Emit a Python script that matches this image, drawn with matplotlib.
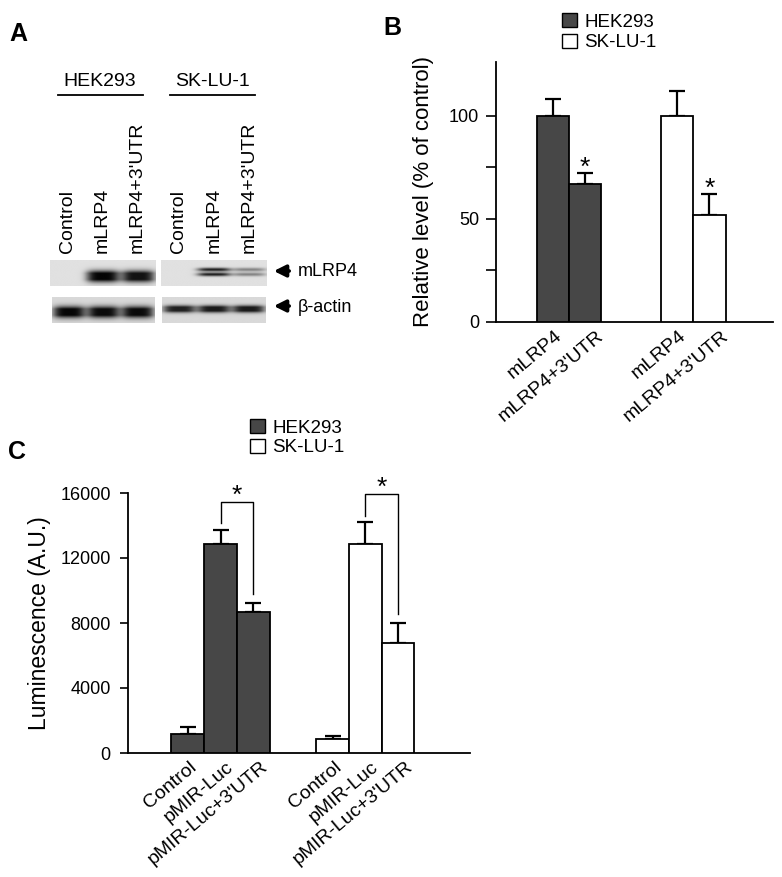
import numpy as np
import matplotlib
matplotlib.use("Agg")
import matplotlib.pyplot as plt
from matplotlib.patches import Patch
from matplotlib.transforms import ScaledTranslation

plt.rcParams['font.family'] = ['Liberation Sans', 'DejaVu Sans']

# ---- data ----
# panel A: band strengths per lane (Control, mLRP4, mLRP4+3'UTR)
lane_labels = ['Control', 'mLRP4', "mLRP4+3'UTR"]
mlrp4_hek = [0.0, 0.98, 0.92]
mlrp4_sk = [0.0, 0.88, 0.42]
actin_hek = [0.97, 0.95, 0.95]
actin_sk = [0.85, 0.88, 0.88]

# panel B: relative level (% of control)
b_labels = ['mLRP4', "mLRP4+3'UTR"]
b_hek = [100, 67]
b_hek_err = [8, 5]
b_sk = [100, 52]
b_sk_err = [12, 10]

# panel C: luminescence (A.U.)
c_labels = ['Control', 'pMIR-Luc', "pMIR-Luc+3'UTR"]
c_hek = [1150, 12850, 8650]
c_hek_err = [450, 880, 580]
c_sk = [880, 12850, 6770]
c_sk_err = [190, 1340, 1250]

DARK = '#474747'
W, H = 782, 877

fig = plt.figure(figsize=(W / 100, H / 100), dpi=100)


def px_rect(x0, y0, x1, y1):
    return [x0 / W, 1 - y1 / H, (x1 - x0) / W, (y1 - y0) / H]


# overlay in pixel coords for panel A annotations
axA = fig.add_axes([0, 0, 1, 1])
axA.set_xlim(0, W)
axA.set_ylim(H, 0)
axA.axis('off')


def draw_blot(rect, strengths, yc, half, doublet=False, bg=0.88):
    ax = fig.add_axes(px_rect(*rect))
    xs = np.linspace(0, 3, 300)
    ys = np.linspace(0, 1, 80)
    X, Y = np.meshgrid(xs, ys)
    img = np.full_like(X, bg)
    for i, s in enumerate(strengths):
        prof_x = np.exp(-((X - (i + 0.5)) / 0.47) ** 4)
        if doublet:
            prof_y = (np.exp(-((Y - yc - half * 0.55) / (half * 0.42)) ** 2)
                      + np.exp(-((Y - yc + half * 0.55) / (half * 0.42)) ** 2))
        else:
            prof_y = 1.4 * np.exp(-((Y - yc) / half) ** 2)
        img = img - s * bg * prof_x * np.clip(prof_y, 0, 1)
    ax.imshow(img, cmap='gray', vmin=0, vmax=1, extent=(0, 3, 0, 1),
              origin='lower', aspect='auto', interpolation='bilinear')
    ax.set_xlim(0, 3)
    ax.set_ylim(0, 1)
    ax.axis('off')
    return ax


ax_tl = draw_blot((50, 260, 155, 286), mlrp4_hek, 0.37, 0.21)
ax_tr = draw_blot((161, 260, 267, 286), mlrp4_sk, 0.54, 0.17, doublet=True)
draw_blot((52, 297, 155, 323), actin_hek, 0.42, 0.21, bg=0.85)
draw_blot((162, 297, 266, 323), actin_sk, 0.54, 0.13, bg=0.85)

for ax in (ax_tl, ax_tr):
    for i, lab in enumerate(lane_labels):
        ax.annotate(lab, xy=(i + 0.5, 1), xytext=(0, 5), textcoords='offset points',
                    rotation=90, ha='center', va='bottom', fontsize=14)

# cell line headers
for name, xc, x0, x1 in [('HEK293', 100, 58, 143), ('SK-LU-1', 212, 170, 255)]:
    axA.text(xc, 82, name, ha='center', va='center', fontsize=14)
    axA.plot([x0, x1], [95, 95], color='black', lw=1.3)

for lab, y in [('mLRP4', 271), ('β-actin', 306)]:
    axA.annotate('', xy=(271, y), xytext=(292, y),
                 arrowprops=dict(arrowstyle='-|>,head_length=0.5,head_width=0.25',
                                 color='black', lw=2.6, mutation_scale=14))
    axA.text(298, y + 1, lab, ha='left', va='center', fontsize=13)

# panel letters
for letter, x, y in [('A', 18, 34), ('B', 392, 28), ('C', 17, 452)]:
    axA.text(x, y, letter, ha='center', va='center', fontsize=18, fontweight='bold')


def style_axes(ax, tick_len, tick_pad):
    ax.spines['top'].set_visible(False)
    ax.spines['right'].set_visible(False)
    ax.spines['left'].set_linewidth(1.3)
    ax.spines['bottom'].set_linewidth(1.3)
    ax.tick_params(axis='y', which='both', direction='out', length=tick_len, width=1.2,
                   labelsize=13, pad=tick_pad)
    ax.tick_params(axis='x', length=0, labelsize=14, pad=4)


def bars(ax, xs, vals, errs, color):
    ax.bar(xs, vals, width=1.0, color=color, edgecolor='black', linewidth=1.3, zorder=3)
    ax.errorbar(xs, vals, yerr=[np.zeros(len(errs)), errs], fmt='none',
                ecolor='black', elinewidth=1.6, capsize=6, capthick=1.6, zorder=2)


def shift_labels(ax, dxs):
    for lab, dx in zip(ax.get_xticklabels(), dxs):
        lab.set_transform(lab.get_transform() + ScaledTranslation(dx / 72, 0, fig.dpi_scale_trans))


def add_legend(ax, x, y, spacing):
    ax.legend(handles=[Patch(facecolor=DARK, edgecolor='black', label='HEK293'),
                       Patch(facecolor='white', edgecolor='black', label='SK-LU-1')],
              loc='upper left', bbox_to_anchor=(x / W, 1 - y / H),
              bbox_transform=fig.transFigure, frameon=False, fontsize=13.5,
              handlelength=0.8, handleheight=0.8, handletextpad=0.4,
              labelspacing=spacing, borderpad=0, borderaxespad=0)


# ---- panel B ----
axB = fig.add_axes(px_rect(496, 62, 773, 322))
offs_b = np.array([-0.5, 0.5])
gB = [0, 3.85]
xb_hek = gB[0] + offs_b
xb_sk = gB[1] + offs_b
bars(axB, xb_hek, b_hek, b_hek_err, DARK)
bars(axB, xb_sk, b_sk, b_sk_err, 'white')
for xs, v, e in [(xb_hek, b_hek, b_hek_err), (xb_sk, b_sk, b_sk_err)]:
    axB.text(xs[1], v[1] + e[1] + 2.5, '*', ha='center', va='center', fontsize=19)
axB.set_xlim(-2.26, 6.32)
axB.set_ylim(0, 126)
axB.set_yticks([0, 50, 100])
axB.set_yticks([25, 75], minor=True)
axB.set_xticks(np.concatenate([xb_hek, xb_sk]))
axB.set_xticklabels(b_labels * 2, rotation=40, ha='right', rotation_mode='anchor')
style_axes(axB, 7, 5)
shift_labels(axB, [1, 8, 1, 8])
axB.set_ylabel('Relative level (% of control)', fontsize=16, labelpad=11)
add_legend(axB, 562, 13, 0.15)

# ---- panel C ----
axC = fig.add_axes(px_rect(128, 493, 470, 753))
offs_c = np.array([-1, 0, 1])
gC = [0, 4.43]
xc_hek = gC[0] + offs_c
xc_sk = gC[1] + offs_c
bars(axC, xc_hek, c_hek, c_hek_err, DARK)
bars(axC, xc_sk, c_sk, c_sk_err, 'white')
for xs, v, e in [(xc_hek, c_hek, c_hek_err), (xc_sk, c_sk, c_sk_err)]:
    y_left = v[1] + e[1] + 420
    y_right = v[2] + e[2] + 550
    y_top = y_left + 1300
    axC.plot([xs[1], xs[1], xs[2], xs[2]], [y_left, y_top, y_top, y_right],
             color='black', lw=1.0, clip_on=False)
    axC.text((xs[1] + xs[2]) / 2, y_top + 380, '*', ha='center', va='center',
             fontsize=19, clip_on=False)
axC.set_xlim(-2.83, 7.63)
axC.set_ylim(0, 16000)
axC.set_yticks(np.arange(0, 16001, 4000))
axC.set_xticks(np.concatenate([xc_hek, xc_sk]))
axC.set_xticklabels(c_labels * 2, rotation=40, ha='right', rotation_mode='anchor')
style_axes(axC, 6, 6.5)
shift_labels(axC, [1, 4, 5, 1, 4, 5])
axC.set_ylabel('Luminescence (A.U.)', fontsize=16.5, labelpad=6.5)
add_legend(axC, 250, 419, 0.1)

fig.savefig('out.png', dpi=100)
